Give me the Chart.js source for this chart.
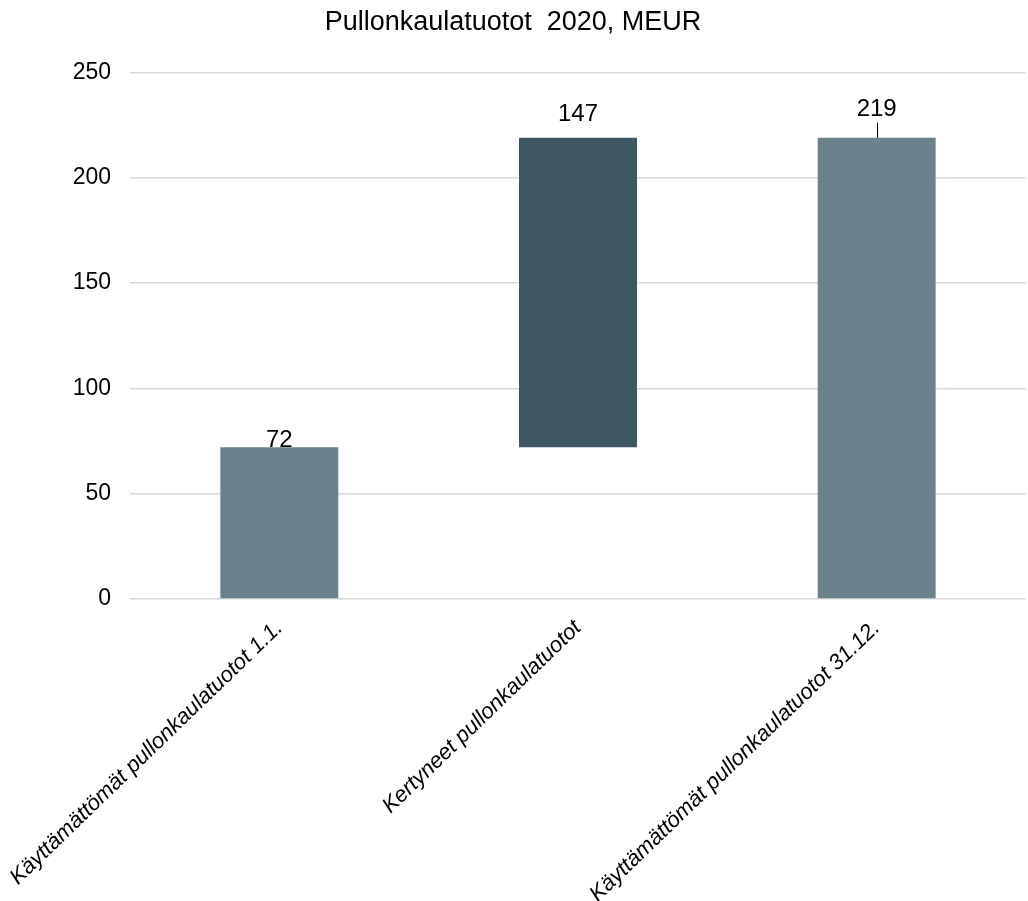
<!DOCTYPE html>
<html>
<head>
<meta charset="utf-8">
<script src="https://cdn.jsdelivr.net/npm/chart.js@4"></script>
<style>
  html, body { margin: 0; padding: 0; background: #fff; }
  #wrap { width: 1028px; height: 901px; }
</style>
</head>
<body>
<div id="wrap"><canvas id="myChart" width="1028" height="901"></canvas></div>
<script>
const categories = ['Käyttämättömät pullonkaulatuotot 1.1.', 'Kertyneet pullonkaulatuotot', 'Käyttämättömät pullonkaulatuotot 31.12.'];
const barStart = [0, 72, 0];
const barEnd = [72, 219, 219];
const labelValues = [72, 147, 219];
const barColors = ['#6b818c', '#3e5661', '#6b818c'];
const yTicks = [0, 50, 100, 150, 200, 250];

const font = 'Liberation Sans, Arial, sans-serif';

// value labels above the bars (and the small leader line on the last one)
const valueLabels = {
  id: 'valueLabels',
  afterDatasetsDraw(chart) {
    const ctx = chart.ctx;
    const meta = chart.getDatasetMeta(0);
    const lift = [0, 17, 22];
    ctx.save();
    ctx.font = '24px ' + font;
    ctx.fillStyle = '#000';
    ctx.textAlign = 'center';
    ctx.textBaseline = 'alphabetic';
    meta.data.forEach((bar, i) => {
      const y = bar.y - lift[i];
      ctx.fillText(String(labelValues[i]), bar.x, y);
      if (i === 2) {
        ctx.strokeStyle = '#000';
        ctx.lineWidth = 1;
        ctx.beginPath();
        ctx.moveTo(Math.round(bar.x) + 0.5, y + 7);
        ctx.lineTo(Math.round(bar.x) + 0.5, bar.y);
        ctx.stroke();
      }
    });
    ctx.restore();
  }
};

const ctx = document.getElementById('myChart').getContext('2d');
const myChart = new Chart(ctx, {
  type: 'bar',
  data: {
    labels: categories,
    datasets: [{
      data: categories.map((c, i) => [barStart[i], barEnd[i]]),
      backgroundColor: barColors,
      borderWidth: 0,
      categoryPercentage: 1,
      barPercentage: 0.395
    }]
  },
  options: {
    responsive: false,
    animation: false,
    devicePixelRatio: 1,
    layout: { padding: { left: 0, right: 2, top: 0, bottom: 0 } },
    plugins: {
      legend: { display: false },
      tooltip: { enabled: false },
      title: {
        display: true,
        text: 'Pullonkaulatuotot  2020, MEUR',
        color: '#000',
        font: { family: font, size: 27, weight: 'normal' },
        padding: { top: 6, bottom: 34 }
      }
    },
    scales: {
      x: {
        grid: { display: false },
        border: { display: false },
        ticks: {
          color: '#000',
          font: { family: font, size: 22, style: 'italic' },
          minRotation: 44,
          maxRotation: 44,
          padding: 8
        },
        afterFit(scale) {
          scale.height = 302;
          scale.paddingLeft = 0;
          scale.paddingRight = 0;
        }
      },
      y: {
        min: 0,
        max: 250,
        afterBuildTicks(scale) { scale.ticks = yTicks.map(v => ({ value: v })); },
        grid: { color: '#d9d9d9', lineWidth: 1.5, drawTicks: false },
        border: { display: false },
        ticks: {
          color: '#000',
          font: { family: font, size: 23 },
          padding: 19
        },
        afterFit(scale) { scale.width = 130; }
      }
    }
  },
  plugins: [valueLabels]
});
</script>
</body>
</html>
